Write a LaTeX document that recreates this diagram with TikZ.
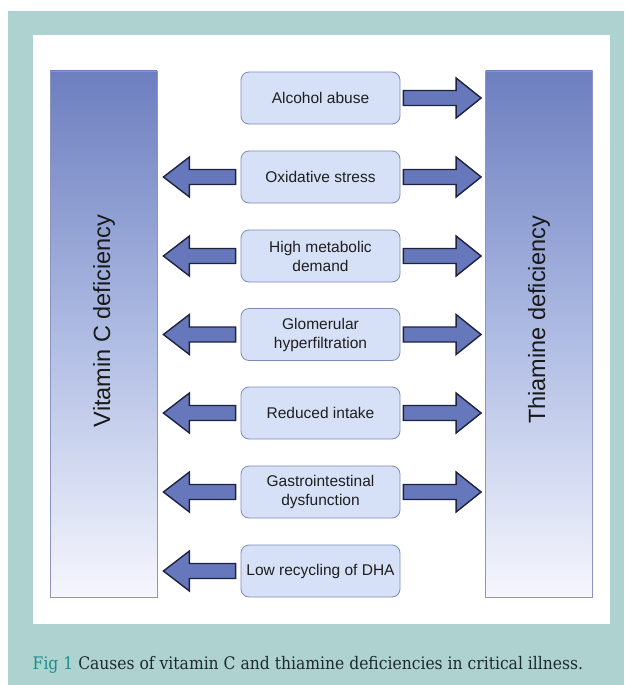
\documentclass[tikz,border=0pt]{standalone}
\usepackage{fontspec}
\setmainfont{Liberation Sans}
\newfontfamily\capfont[FakeStretch=0.9]{DejaVu Serif}
\usetikzlibrary{calc}
\definecolor{tealbg}{HTML}{AED2CF}
\definecolor{figteal}{HTML}{1E8E8A}
\definecolor{captxt}{HTML}{1F2A30}
\definecolor{bartop}{HTML}{6C7EBF}
\definecolor{barmid}{HTML}{AEBBE3}
\definecolor{barbot}{HTML}{F6F7FD}
\definecolor{barline}{HTML}{8A94BC}
\definecolor{boxfill}{HTML}{D6E0F6}
\definecolor{boxline}{HTML}{7E8CBA}
\definecolor{arrfill}{HTML}{6677BB}
\definecolor{arrline}{HTML}{1E2440}
\tikzset{
  sidebar/.style={draw=barline, line width=0.8pt, minimum width=107pt, minimum height=526pt, inner sep=0pt,
    top color=bartop, bottom color=barbot, middle color=barmid},
  bartext/.style={font=\fontsize{23.5}{26}\selectfont, rotate=90, inner sep=0pt, text=black!90},
  causebox/.style={draw=boxline, line width=0.8pt, fill=boxfill, rounded corners=8pt,
    minimum width=159pt, minimum height=52pt, inner sep=0pt, align=center,
    font=\fontsize{15.5}{19}\selectfont, text=black!88},
  blockarrow/.style={draw=arrline, line width=1.4pt, fill=arrfill, line join=miter},
}
\newcommand\rightblock[2]{%
  \draw[blockarrow] let \p1=($(#1.east)+(3pt,0)$), \p2=($(#2.west)+(-4pt,0)$) in
    (\x1,\y1+7.5pt) -- (\x2-25pt,\y1+7.5pt) -- (\x2-25pt,\y1+20pt) -- (\x2,\y1)
    -- (\x2-25pt,\y1-20pt) -- (\x2-25pt,\y1-7.5pt) -- (\x1,\y1-7.5pt) -- cycle;}
\newcommand\leftblock[2]{%
  \draw[blockarrow] let \p1=($(#1.west)+(-5pt,0)$), \p2=($(#2.east)+(6pt,0)$) in
    (\x1,\y1+7.5pt) -- (\x2+26pt,\y1+7.5pt) -- (\x2+26pt,\y1+20pt) -- (\x2,\y1)
    -- (\x2+26pt,\y1-20pt) -- (\x2+26pt,\y1-7.5pt) -- (\x1,\y1-7.5pt) -- cycle;}
\begin{document}
\begin{tikzpicture}[x=1pt,y=-1pt]
  \useasboundingbox (0,0) rectangle (624,685);
  \fill[white] (0,0) rectangle (624,685);
  \fill[tealbg] (8,11) rectangle (624,685);
  \fill[white] (33,35) rectangle (610,624);

  \node[sidebar] (lbar) at (103.5,334) {};
  \node[sidebar] (rbar) at (539,334) {};
  \node[bartext] (ltext) at (104,321) {Vitamin C deficiency};
  \node[bartext] (rtext) at (539,320) {Thiamine deficiency};

  \node[causebox] (b1) at (320.5,98) {Alcohol abuse};
  \node[causebox] (b2) at (320.5,177) {Oxidative stress};
  \node[causebox] (b3) at (320.5,256) {High metabolic\\demand};
  \node[causebox] (b4) at (320.5,334.5) {Glomerular\\hyperfiltration};
  \node[causebox] (b5) at (320.5,413) {Reduced intake};
  \node[causebox] (b6) at (320.5,492) {Gastrointestinal\\dysfunction};
  \node[causebox] (b7) at (320.5,571) {Low recycling of DHA};

  \rightblock{b1}{rbar}
  \rightblock{b2}{rbar}
  \rightblock{b3}{rbar}
  \rightblock{b4}{rbar}
  \rightblock{b5}{rbar}
  \rightblock{b6}{rbar}
  \leftblock{b2}{lbar}
  \leftblock{b3}{lbar}
  \leftblock{b4}{lbar}
  \leftblock{b5}{lbar}
  \leftblock{b6}{lbar}
  \leftblock{b7}{lbar}

  \node[anchor=base west, inner sep=0pt, font=\capfont\fontsize{17.3}{20}\selectfont, text=captxt] (cap) at (32.5,669.5)
    {\textcolor{figteal}{Fig 1} Causes of vitamin C and thiamine deficiencies in critical illness.};
\end{tikzpicture}
\end{document}
